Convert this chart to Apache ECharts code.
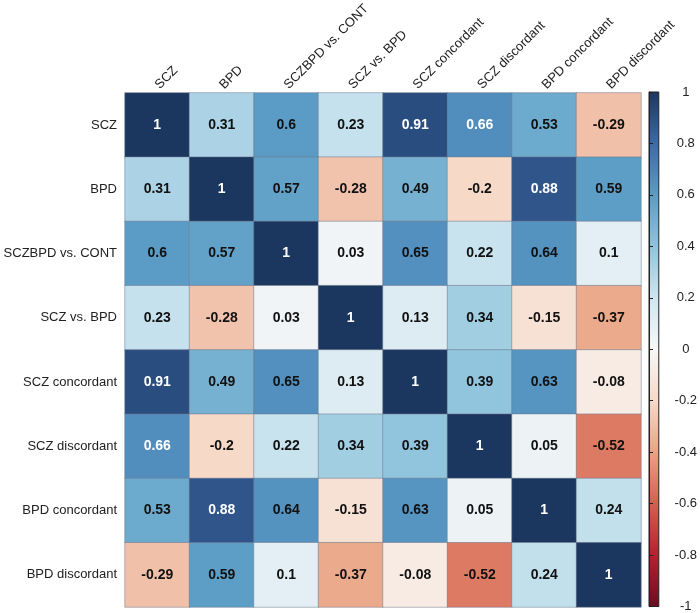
<!DOCTYPE html>
<html>
<head>
<meta charset="utf-8">
<script src="https://cdn.jsdelivr.net/npm/echarts@6/dist/echarts.min.js"></script>
<style>html,body{margin:0;padding:0;background:#fff}#c{width:700px;height:613px}</style>
</head>
<body>
<div id="c"></div>
<script>
var categories = ["SCZ","BPD","SCZBPD vs. CONT","SCZ vs. BPD","SCZ concordant","SCZ discordant","BPD concordant","BPD discordant"];
var rowSCZ      = [1, 0.31, 0.6, 0.23, 0.91, 0.66, 0.53, -0.29];
var rowBPD      = [0.31, 1, 0.57, -0.28, 0.49, -0.2, 0.88, 0.59];
var rowSCZBPD   = [0.6, 0.57, 1, 0.03, 0.65, 0.22, 0.64, 0.1];
var rowSCZvsBPD = [0.23, -0.28, 0.03, 1, 0.13, 0.34, -0.15, -0.37];
var rowSCZconc  = [0.91, 0.49, 0.65, 0.13, 1, 0.39, 0.63, -0.08];
var rowSCZdisc  = [0.66, -0.2, 0.22, 0.34, 0.39, 1, 0.05, -0.52];
var rowBPDconc  = [0.53, 0.88, 0.64, -0.15, 0.63, 0.05, 1, 0.24];
var rowBPDdisc  = [-0.29, 0.59, 0.1, -0.37, -0.08, -0.52, 0.24, 1];
var rows = [rowSCZ,rowBPD,rowSCZBPD,rowSCZvsBPD,rowSCZconc,rowSCZdisc,rowBPDconc,rowBPDdisc];

var palette = ["#6a0d22","#b4222f","#d2604e","#eaa282","#f7d9c8","#f7f7f7","#cfe6f0","#8ec3dc","#5a9cc6","#3c6aa8","#1b365f"];

var data = [];
rows.forEach(function(r, yi){
  r.forEach(function(v, xi){
    data.push({value:[xi, yi, v], label:{color: v >= 0.66 ? '#ffffff' : '#111111'}});
  });
});

var stops = palette.slice().reverse().map(function(c,i){return {offset:i/(palette.length-1), color:c};});

var chart = echarts.init(document.getElementById('c'));
chart.setOption({
  animation:false,
  textStyle:{fontFamily:'Liberation Sans, Arial, sans-serif'},
  grid:[
    {left:125, top:92, width:516, height:515},
    {left:649, top:92, width:17, height:515, show:true, borderColor:'#222', borderWidth:1,
     backgroundColor:new echarts.graphic.LinearGradient(0,0,0,1,stops)}
  ],
  xAxis:[
    {type:'category', data:categories, position:'top', gridIndex:0,
     axisLine:{show:false}, axisTick:{show:false}, splitLine:{show:false},
     axisLabel:{rotate:-45, fontSize:13, color:'#222', margin:6, interval:0}},
    {type:'value', gridIndex:1, show:false, min:0, max:1}
  ],
  yAxis:[
    {type:'category', data:categories, inverse:true, gridIndex:0,
     axisLine:{show:false}, axisTick:{show:false}, splitLine:{show:false},
     axisLabel:{fontSize:13, color:'#222', margin:8, interval:0}},
    {type:'value', gridIndex:1, position:'right', min:-1, max:1, interval:0.2,
     axisLine:{show:true, lineStyle:{color:'#222'}},
     axisTick:{show:true, length:4, lineStyle:{color:'#222'}},
     splitLine:{show:false},
     axisLabel:{fontSize:13, color:'#222', align:'center', margin:27,
       formatter:function(v){return String(Math.round(v*10)/10);}}}
  ],
  visualMap:{type:'continuous', min:-1, max:1, show:false, seriesIndex:0, inRange:{color:palette}},
  series:[{
    type:'heatmap', xAxisIndex:0, yAxisIndex:0, data:data,
    itemStyle:{borderColor:'rgba(110,120,140,0.5)', borderWidth:1},
    label:{show:true, fontSize:14, fontWeight:'bold',
      formatter:function(p){return String(p.value[2]);}},
    emphasis:{disabled:true}
  }]
});
</script>
</body>
</html>
